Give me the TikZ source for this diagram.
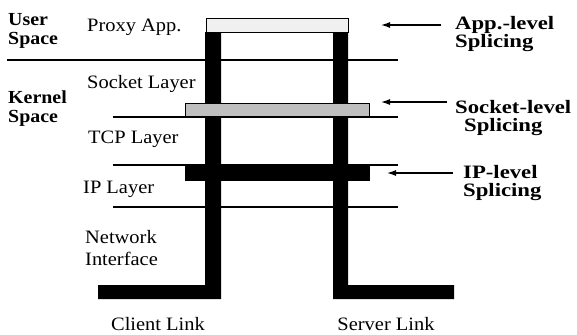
\documentclass[tikz,border=0pt]{standalone}
\usepackage{fontspec}
\setmainfont{Liberation Serif}[FakeStretch=1.08]
\newfontfamily\widefont{Liberation Serif}[FakeStretch=1.2]
\usetikzlibrary{arrows.meta}
\begin{document}
\begin{tikzpicture}[x=1bp,y=-1bp,
  lab/.style={anchor=base west, inner sep=0pt, align=left, font=\fontsize{19}{22}\selectfont},
  blab/.style={anchor=base west, inner sep=0pt, align=left, font=\fontsize{18.5}{19}\selectfont\bfseries},
  rlab/.style={anchor=base west, inner sep=0pt, align=left, font=\widefont\fontsize{19}{18}\selectfont\bfseries},
  layerline/.style={line width=1.3bp},
  linkbar/.style={fill=black, draw=none},
  splicebox/.style={draw=black, line width=0.8bp, anchor=north west, inner sep=0pt, minimum height=14bp},
  arr/.style={line width=1.2bp, -{Latex[length=9bp,width=6bp]}}
]
\useasboundingbox (0,0) rectangle (577,334);
% layer lines
\draw[line width=2.5bp] (7,60) -- (398,60);
\draw[layerline] (113,117) -- (398,117);
\draw[layerline] (113,165) -- (398,165);
\draw[layerline] (113,207) -- (398,207);
% links
\fill[linkbar] (205,32) -- (221,32) -- (221,299) -- (98,299) -- (98,285) -- (205,285) -- cycle;
\fill[linkbar] (333,32) -- (348,32) -- (348,285) -- (454,285) -- (454,299) -- (333,299) -- cycle;
% splice boxes
\node[splicebox, fill=gray!12, minimum width=142bp] (app) at (206,18) {};
\node[splicebox, fill=gray!50, minimum width=184bp, minimum height=13bp] (sock) at (185,103) {};
\node[splicebox, fill=black, minimum width=184bp, minimum height=15bp] (ip) at (185,165) {};
% left labels (base anchor = last line)
\node[blab] (user) at (8,44) {User\\Space};
\node[blab] (kernel) at (8,122) {Kernel\\Space};
\node[lab] (proxy) at (87,31) {Proxy App.};
\node[lab] (socket) at (87,88) {Socket Layer};
\node[lab] (tcp) at (88,143) {TCP Layer};
\node[lab] (iplayer) at (83,193) {IP Layer};
\node[lab] (net) at (85,265) {Network\\Interface};
\node[lab, anchor=base] (client) at (158,330) {Client Link};
\node[lab, anchor=base] (server) at (386,330) {Server Link};
% right labels
\node[rlab] (appl) at (455,47) {App.-level\\Splicing};
\node[rlab] (sockl) at (455,131) {Socket-level\\\hspace*{9bp}Splicing};
\node[rlab] (ipl) at (463,196) {IP-level\\Splicing};
% arrows
\coordinate (apptail) at (441,25);
\coordinate (apptip) at (381,25);
\coordinate (socktail) at (447,102);
\coordinate (socktip) at (381,102);
\coordinate (iptail) at (453,173);
\coordinate (iptip) at (387,173);
\draw[arr] (apptail) -- (apptip);
\draw[arr] (socktail) -- (socktip);
\draw[arr] (iptail) -- (iptip);
\end{tikzpicture}
\end{document}
